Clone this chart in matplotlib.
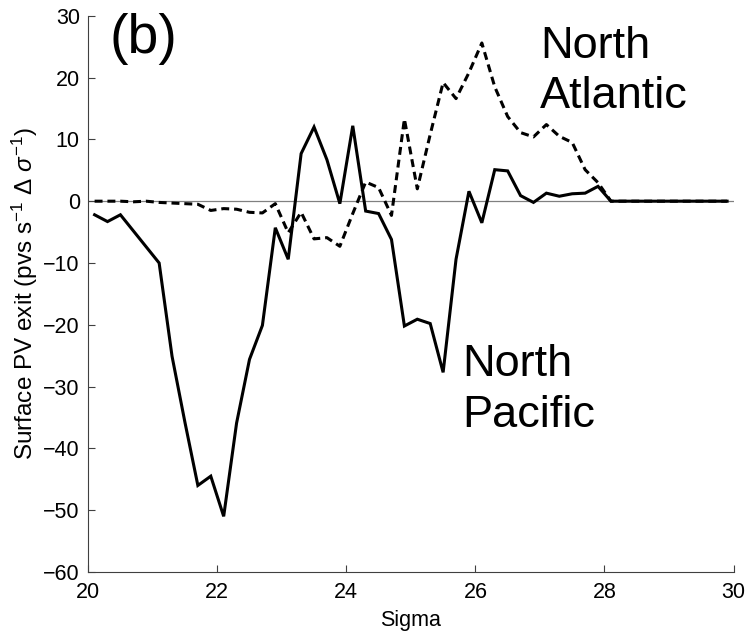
#!/usr/bin/env python3

import matplotlib

matplotlib.use("Agg")
import matplotlib.pyplot as plt

# sigma bins (density classes)
SIGMA = [
    20.1, 20.3, 20.5, 20.7, 20.9, 21.1, 21.3, 21.5, 21.7, 21.9,
    22.1, 22.3, 22.5, 22.7, 22.9, 23.1, 23.3, 23.5, 23.7, 23.9,
    24.1, 24.3, 24.5, 24.7, 24.9, 25.1, 25.3, 25.5, 25.7, 25.9,
    26.1, 26.3, 26.5, 26.7, 26.9, 27.1, 27.3, 27.5, 27.7, 27.9,
    28.1, 28.3, 28.5, 28.7, 28.9, 29.1, 29.3, 29.5, 29.7, 29.9,
]

NORTH_PACIFIC = [
    -2.2, -3.3, -2.2, -4.8, -7.4, -10.0, -25.1, -35.8, -46.0, -44.5,
    -51.0, -35.9, -25.6, -20.1, -4.3, -9.4, 7.7, 12.0, 6.7, -0.4,
    12.2, -1.6, -2.0, -6.2, -20.2, -19.1, -19.8, -27.7, -9.4, 1.6,
    -3.5, 5.1, 4.9, 0.9, -0.2, 1.3, 0.8, 1.2, 1.3, 2.4,
    0.0, 0.0, 0.0, 0.0, 0.0, 0.0, 0.0, 0.0, 0.0, 0.0,
]

NORTH_ATLANTIC = [
    0.0, 0.0, 0.0, -0.1, 0.0, -0.2, -0.3, -0.4, -0.5, -1.5,
    -1.2, -1.3, -1.8, -1.9, -0.4, -5.1, -1.8, -6.1, -5.9, -7.3,
    -2.0, 3.1, 2.2, -2.3, 13.3, 2.0, 10.8, 19.2, 16.6, 20.8,
    25.6, 18.5, 13.7, 11.1, 10.4, 12.4, 10.5, 9.5, 5.1, 3.0,
    0.0, 0.0, 0.0, 0.0, 0.0, 0.0, 0.0, 0.0, 0.0, 0.0,
]

X_TICKS = [20, 22, 24, 26, 28, 30]
Y_TICKS = [-60, -50, -40, -30, -20, -10, 0, 10, 20, 30]

FONT = ["Liberation Sans", "DejaVu Sans"]


def plot_exit(output_path):
    plt.rcParams["font.family"] = FONT
    plt.rcParams["mathtext.fontset"] = "custom"
    plt.rcParams["mathtext.rm"] = "Liberation Sans"
    plt.rcParams["mathtext.it"] = "Liberation Sans:italic"

    fig = plt.figure(figsize=(7.47, 6.32), dpi=100)
    ax = fig.add_axes([0.118, 0.095, 0.864, 0.88])

    ax.axhline(0, color="#808080", linewidth=0.9, zorder=1)
    ax.plot(SIGMA, NORTH_PACIFIC, color="black", linewidth=2.2,
            solid_joinstyle="miter", zorder=3)
    ax.plot(SIGMA, NORTH_ATLANTIC, color="black", linewidth=2.2,
            linestyle=(0, (2.6, 1.6)), zorder=2)

    ax.set_xlim(20, 30)
    ax.set_ylim(-60, 30)
    ax.set_xticks(X_TICKS)
    ax.set_yticks(Y_TICKS)
    ax.tick_params(direction="in", length=5, width=0.8, labelsize=15.5,
                   color="#404040")
    ax.tick_params(axis="x", pad=7)
    ax.tick_params(axis="y", pad=6)
    for side in ("top", "right"):
        ax.spines[side].set_visible(False)
    for side in ("left", "bottom"):
        ax.spines[side].set_color("#404040")
        ax.spines[side].set_linewidth(0.8)

    ax.set_xlabel("Sigma", fontsize=15.5, labelpad=5)
    ax.set_ylabel(r"Surface PV exit (pvs s$^{-1}$ $\Delta$ $\sigma^{-1}$)",
                  fontsize=17.5, labelpad=2)

    ax.text(20.86, 26.3, "(b)", fontsize=40, ha="center", va="center")
    ax.text(27.0, 21.0, "North\nAtlantic", fontsize=32.5, ha="left",
            va="center", linespacing=1.3)
    ax.text(25.8, -30.6, "North\nPacific", fontsize=32.5, ha="left",
            va="center", linespacing=1.3)

    fig.savefig(output_path, dpi=100)
    plt.close(fig)


def main():
    plot_exit("out.png")


if __name__ == "__main__":
    main()
